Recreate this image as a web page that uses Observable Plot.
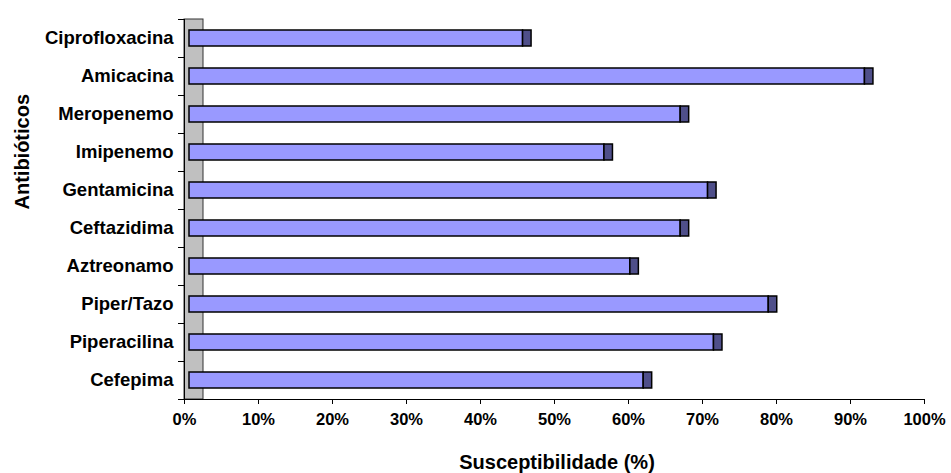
<!DOCTYPE html>
<html>
<head>
<meta charset="utf-8">
<script src="https://cdn.jsdelivr.net/npm/d3@7"></script>
<script src="https://cdn.jsdelivr.net/npm/@observablehq/plot@0.6"></script>
<style>
  html, body { margin: 0; padding: 0; background: #fff; }
</style>
</head>
<body>
<div id="chart"></div>
<script>
const categories = ["Ciprofloxacina", "Amicacina", "Meropenemo", "Imipenemo", "Gentamicina",
                    "Ceftazidima", "Aztreonamo", "Piper/Tazo", "Piperacilina", "Cefepima"];
const values = [0.469, 0.931, 0.682, 0.579, 0.719, 0.682, 0.614, 0.801, 0.727, 0.632];
const xTicks = [0, 0.1, 0.2, 0.3, 0.4, 0.5, 0.6, 0.7, 0.8, 0.9, 1.0];
const xTitle = "Susceptibilidade (%)";
const yTitle = "Antibióticos";

const data = categories.map((c, i) => ({ name: c, value: values[i] }));
const font = "'Liberation Sans', Arial, sans-serif";

const chart = Plot.plot({
  width: 951,
  height: 473,
  marginLeft: 184,
  marginRight: 27,
  marginTop: 19,
  marginBottom: 74,
  style: { fontFamily: font, background: "#fff", color: "#000" },
  x: { domain: [0, 1], label: null },
  y: { domain: categories, padding: 0, label: null },
  marks: [
    // grey side wall
    Plot.rect([0], { x1: 0, x2: 0, insetRight: -19, fill: "#C0C0C0", stroke: "#333", strokeWidth: 1 }),
    // front face of bars
    Plot.barX(data, { x1: 0, x2: "value", y: "name", insetLeft: 5, insetRight: 8.5,
      insetTop: 11, insetBottom: 11, fill: "#9999FF", stroke: "#000", strokeWidth: 1.5 }),
    // darker end cap (3D side)
    Plot.rect(data, { x1: "value", x2: "value", y: "name", insetLeft: -8.5,
      insetTop: 11, insetBottom: 11, fill: "#4F4F8A", stroke: "#000", strokeWidth: 1.5 }),
    // axis lines
    Plot.ruleX([0], { stroke: "#000", strokeWidth: 1 }),
    Plot.ruleY([categories[categories.length - 1]], { x1: 0, x2: 1, dy: 19, insetLeft: -6, stroke: "#000", strokeWidth: 1 }),
    // y ticks at band boundaries
    Plot.axisY({ text: null, tickSize: 6, dy: -19, stroke: "#000", label: null }),
    // y labels
    Plot.axisY({ tickSize: 0, tickPadding: 11, fontSize: 18.5, fontWeight: "bold", label: null }),
    // x axis
    Plot.axisX({ ticks: xTicks, tickSize: 5, tickPadding: 9, tickFormat: d3.format(".0%"),
      fontSize: 16.5, fontWeight: "bold", label: null }),
    // titles
    Plot.text([xTitle], { text: d => d, frameAnchor: "bottom", dy: 63, dx: 2.5,
      fontSize: 20, fontWeight: "bold", lineAnchor: "middle", letterSpacing: "1.3px" }),
    Plot.text([yTitle], { text: d => d, frameAnchor: "left", dx: -162, rotate: -90,
      fontSize: 20, fontWeight: "bold", lineAnchor: "middle", letterSpacing: "1.3px" })
  ]
});
document.getElementById("chart").appendChild(chart);
</script>
</body>
</html>
